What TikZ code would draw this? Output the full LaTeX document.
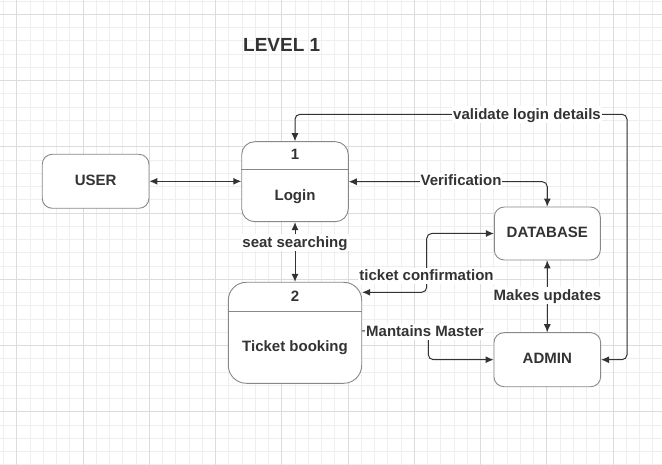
\documentclass[tikz,border=0pt]{standalone}
\usepackage{fontspec}
\setmainfont{Liberation Sans}
\usepackage{xcolor}
\usetikzlibrary{arrows.meta,calc}
\definecolor{ink}{HTML}{333333}
\definecolor{boxline}{HTML}{888888}
\definecolor{gridminor}{HTML}{EEEEEE}
\definecolor{gridmajor}{HTML}{DCDCDC}
\tikzset{>={Latex[length=8pt,width=7pt]}}
\tikzset{
  proc/.style={draw=boxline,fill=white,line width=0.9pt,rounded corners=10pt},
  txt/.style={text=ink,inner sep=0pt,text height=11.5pt,text depth=3.5pt,font=\bfseries\fontsize{15}{18}\selectfont},
  lbl/.style={txt,fill=white,inner sep=1pt,text height=12pt,text depth=2.5pt},
  flow/.style={draw=ink,line width=1pt,rounded corners=5pt},
}

\begin{document}
\begin{tikzpicture}[x=1pt,y=-1pt]
  \useasboundingbox (0,0) rectangle (662,465);
  \fill[white] (0,0) rectangle (662,465);

  % Grid
  \foreach \k in {-1,...,49}
    \draw[gridminor,line width=0.9pt] ({16.7+13.25*\k},0) -- ++(0,465);
  \foreach \k in {-1,...,34}
    \draw[gridminor,line width=0.9pt] (0,{14.3+13.25*\k}) -- ++(662,0);
  \foreach \k in {0,...,9}
    \draw[gridmajor,line width=0.9pt] ({16.7+66.25*\k},0) -- ++(0,465);
  \foreach \k in {0,...,6}
    \draw[gridmajor,line width=0.9pt] (0,{14.3+66.25*\k}) -- ++(662,0);

  % Title
  \node[txt,font=\bfseries\fontsize{19}{22}\selectfont,text height=,text depth=,anchor=base west] (title) at (243,51.7) {LEVEL 1};

  % Boxes
  \node[proc,txt,draw=boxline,fill=white,inner sep=0pt,minimum width=106.7pt,minimum height=54pt] (user) at (95.6,181.3) {USER};
  \node[proc,rounded corners=13pt,minimum width=106.6pt,minimum height=80pt] (login) at (295,181.7) {};
  \node[proc,rounded corners=18pt,minimum width=133.4pt,minimum height=101pt] (tb) at (295,332.8) {};
  \node[proc,txt,draw=boxline,fill=white,inner sep=0pt,minimum width=106pt,minimum height=53pt] (db) at (547.3,233.5) {DATABASE};
  \node[proc,txt,draw=boxline,fill=white,inner sep=0pt,minimum width=106.7pt,minimum height=54pt] (admin) at (547.3,359.7) {ADMIN};

  % Dividers and process texts
  \draw[boxline,line width=0.9pt] ($(login.north west)+(0,28.6)$) -- ($(login.north east)+(0,28.6)$);
  \draw[boxline,line width=0.9pt] ($(tb.north west)+(0,29.7)$) -- ($(tb.north east)+(0,29.7)$);
  \node[txt] (loginnum) at ($(login.north)+(0,14.2)$) {1};
  \node[txt] (loginname) at ($(login.south)+(0,-26.1)$) {Login};
  \node[txt] (tbnum) at ($(tb.north)+(0,15.7)$) {2};
  \node[txt] (tbname) at ($(tb.south)+(0,-36)$) {Ticket booking};

  % Lines
  \coordinate (vl) at (627,114.3);
  \coordinate (tc) at (426.7,292.3);
  \coordinate (mm) at (428.3,331);
  \draw[flow,<->] (user.east) -- (user.east -| login.west);
  \draw[flow,<->] (login.north) |- (vl) |- (admin.east);
  \draw[flow,<->] (login.east) -| (db.north);
  \draw[flow,<->] (db.west) -| (tc) -- (tc -| tb.east);
  \draw[flow,<->] (login.south) -- (tb.north);
  \draw[flow,<->] (db.south) -- (admin.north);
  \draw[flow,->] (mm -| tb.east) -- (mm) |- (admin.west);

  % Labels
  \node[lbl] (vld) at (527,114.3) {validate login details};
  \node[lbl] (ver) at (461,181) {Verification};
  \node[lbl] (seat) at (295,242.7) {seat searching};
  \node[lbl] (tconf) at (426.5,276) {ticket confirmation};
  \node[lbl] (upd) at (547.5,295.3) {Makes updates};
  \node[lbl] (mant) at (425,332) {Mantains Master};
\end{tikzpicture}
\end{document}
